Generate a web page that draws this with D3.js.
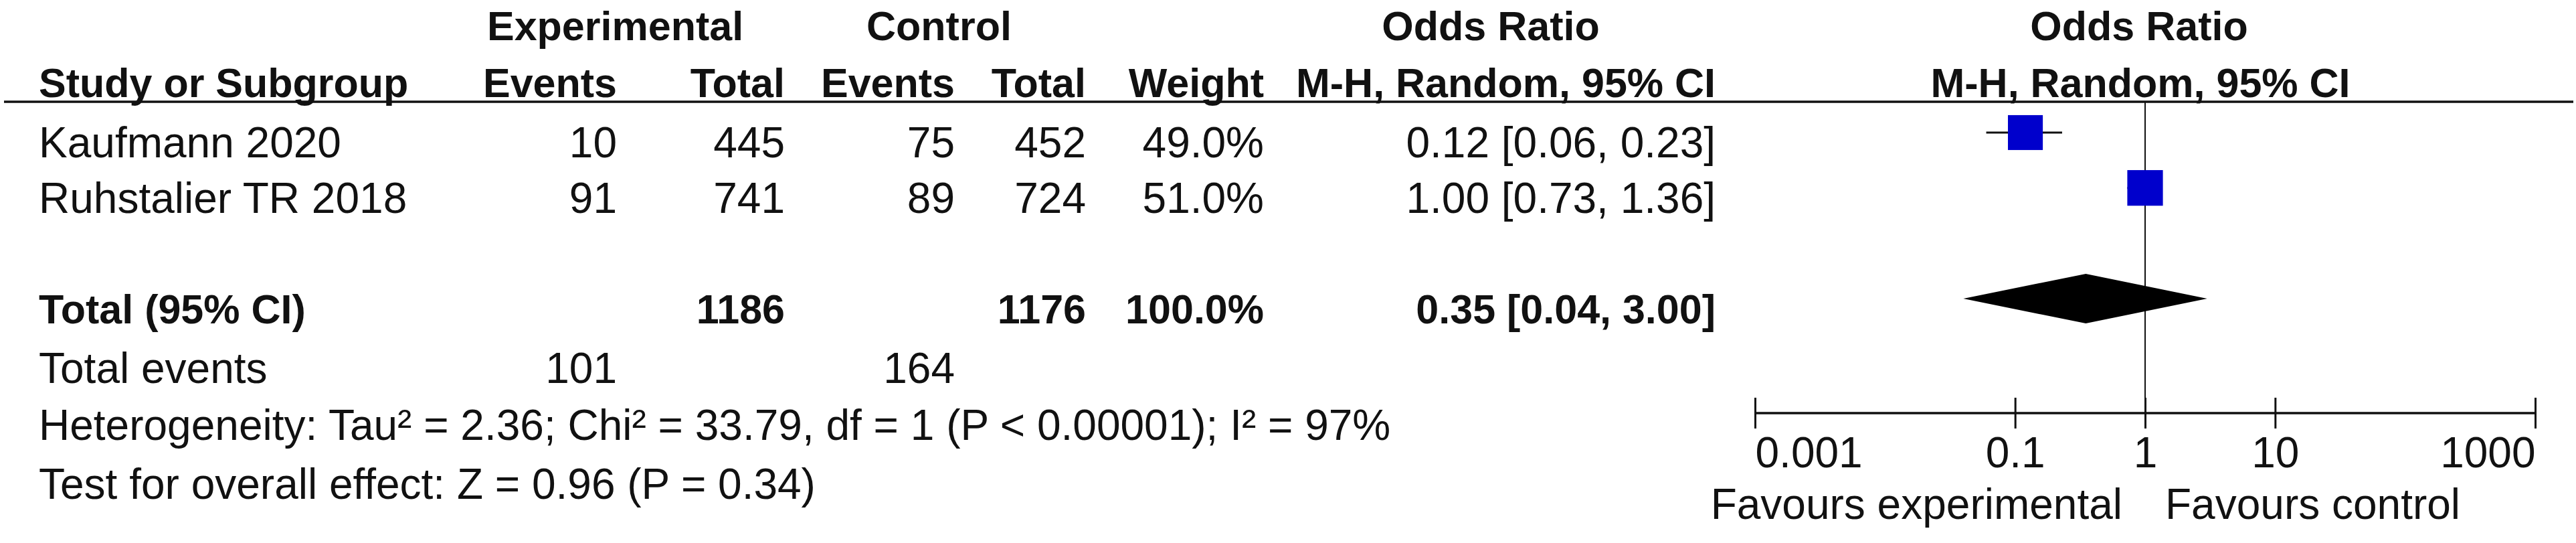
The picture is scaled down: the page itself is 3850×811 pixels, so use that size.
<!DOCTYPE html>
<html>
<head>
<meta charset="utf-8">
<script src="https://cdn.jsdelivr.net/npm/d3@7"></script>
<style>
  body { margin: 0; background: #fff; }
  text { font-family: "Liberation Sans", Arial, sans-serif; fill: #111; }
</style>
</head>
<body>
<div id="chart"></div>
<script>
const width = 3850;
const height = 811;

// Data
const studies = ["Kaufmann 2020", "Ruhstalier TR 2018"];
const expEvents = [10, 91];
const expTotal = [445, 741];
const ctrlEvents = [75, 89];
const ctrlTotal = [452, 724];
const weights = [49.0, 51.0];
const orValue = [0.12, 1.0];
const orLow = [0.06, 0.73];
const orHigh = [0.23, 1.36];

const pooled = { or: 0.35, low: 0.04, high: 3.0, expTotal: 1186, ctrlTotal: 1176, expEvents: 101, ctrlEvents: 164 };
const axisTicks = [0.001, 0.1, 1, 10, 1000];
const heterogeneity = "Heterogeneity: Tau² = 2.36; Chi² = 33.79, df = 1 (P < 0.00001); I² = 97%";
const overall = "Test for overall effect: Z = 0.96 (P = 0.34)";

const regular = 64;
const bold = 61;

const svg = d3.select("#chart")
  .append("svg")
  .attr("width", width)
  .attr("height", height);

// row baselines: 0,1 = studies, 3 = total
const y = d3.scaleLinear().domain([0, 3]).range([235, 483]);
const x = d3.scaleLog().domain([0.001, 1000]).range([2623, 3789]);
const markOffset = 37;

const fmt2 = d3.format(".2f");
const orText = (v, l, h) => `${fmt2(v)} [${fmt2(l)}, ${fmt2(h)}]`;

// column right edges
const col = { name: 58, expEv: 922, expTot: 1173, ctrlEv: 1427, ctrlTot: 1623, weight: 1889, or: 2564 };

const addText = (g, tx, ty, str, opts = {}) =>
  g.append("text")
    .attr("x", tx)
    .attr("y", ty)
    .attr("text-anchor", opts.anchor || "start")
    .attr("font-size", opts.bold ? bold : regular)
    .attr("font-weight", opts.bold ? "bold" : "normal")
    .text(str);

// Header
const head = svg.append("g").attr("class", "header");
addText(head, 728, 60, "Experimental", { bold: true });
addText(head, 1295, 60, "Control", { bold: true });
addText(head, 2228, 60, "Odds Ratio", { bold: true, anchor: "middle" });
addText(head, 3197, 60, "Odds Ratio", { bold: true, anchor: "middle" });

addText(head, col.name, 145, "Study or Subgroup", { bold: true });
addText(head, col.expEv, 145, "Events", { bold: true, anchor: "end" });
addText(head, col.expTot, 145, "Total", { bold: true, anchor: "end" });
addText(head, col.ctrlEv, 145, "Events", { bold: true, anchor: "end" });
addText(head, col.ctrlTot, 145, "Total", { bold: true, anchor: "end" });
addText(head, col.weight, 145, "Weight", { bold: true, anchor: "end" });
addText(head, col.or, 145, "M-H, Random, 95% CI", { bold: true, anchor: "end" });
addText(head, 3199, 145, "M-H, Random, 95% CI", { bold: true, anchor: "middle" });

svg.append("line")
  .attr("x1", 6).attr("x2", 3846)
  .attr("y1", 152).attr("y2", 152)
  .attr("stroke", "#111")
  .attr("stroke-width", 3.5);

// Study rows
const rows = svg.append("g").attr("class", "rows");
studies.forEach((s, i) => {
  const by = y(i);
  addText(rows, col.name, by, s);
  addText(rows, col.expEv, by, expEvents[i], { anchor: "end" });
  addText(rows, col.expTot, by, expTotal[i], { anchor: "end" });
  addText(rows, col.ctrlEv, by, ctrlEvents[i], { anchor: "end" });
  addText(rows, col.ctrlTot, by, ctrlTotal[i], { anchor: "end" });
  addText(rows, col.weight, by, d3.format(".1f")(weights[i]) + "%", { anchor: "end" });
  addText(rows, col.or, by, orText(orValue[i], orLow[i], orHigh[i]), { anchor: "end" });
});

// Total row
const ty = y(3);
addText(rows, col.name, ty, "Total (95% CI)", { bold: true });
addText(rows, col.expTot, ty, pooled.expTotal, { bold: true, anchor: "end" });
addText(rows, col.ctrlTot, ty, pooled.ctrlTotal, { bold: true, anchor: "end" });
addText(rows, col.weight, ty, "100.0%", { bold: true, anchor: "end" });
addText(rows, col.or, ty, orText(pooled.or, pooled.low, pooled.high), { bold: true, anchor: "end" });

addText(rows, col.name, 572, "Total events");
addText(rows, col.expEv, 572, pooled.expEvents, { anchor: "end" });
addText(rows, col.ctrlEv, 572, pooled.ctrlEvents, { anchor: "end" });
addText(rows, col.name, 657, heterogeneity);
addText(rows, col.name, 745, overall);

// Plot
const axisY = 617;
const plot = svg.append("g").attr("class", "plot");

plot.append("line")
  .attr("x1", x(1)).attr("x2", x(1))
  .attr("y1", 152).attr("y2", axisY + 23)
  .attr("stroke", "#111")
  .attr("stroke-width", 2);

// CI lines
plot.selectAll("line.ci")
  .data(studies)
  .join("line")
  .attr("class", "ci")
  .attr("x1", (d, i) => x(orLow[i]))
  .attr("x2", (d, i) => x(orHigh[i]))
  .attr("y1", (d, i) => y(i) - markOffset)
  .attr("y2", (d, i) => y(i) - markOffset)
  .attr("stroke", "#111")
  .attr("stroke-width", 3);

// weight squares
const boxSize = (w) => Math.sqrt(w) * 7.45;
plot.selectAll("rect.box")
  .data(studies)
  .join("rect")
  .attr("class", "box")
  .attr("x", (d, i) => x(orValue[i]) - boxSize(weights[i]) / 2)
  .attr("y", (d, i) => y(i) - markOffset - boxSize(weights[i]) / 2)
  .attr("width", (d, i) => boxSize(weights[i]))
  .attr("height", (d, i) => boxSize(weights[i]))
  .attr("fill", "#0000cc");

// pooled diamond
const dy = ty - markOffset;
const dh = 37;
plot.append("path")
  .attr("d", `M${x(pooled.low)},${dy} L${x(pooled.or)},${dy - dh} L${x(pooled.high)},${dy} L${x(pooled.or)},${dy + dh} Z`)
  .attr("fill", "#000");

// axis
const axis = plot.append("g")
  .attr("transform", `translate(0,${axisY})`)
  .call(d3.axisBottom(x).tickValues(axisTicks).tickFormat(d3.format("~g")).tickSizeOuter(0));

axis.select(".domain")
  .attr("d", `M${x(0.001)},0H${x(1000)}`)
  .attr("stroke", "#111")
  .attr("stroke-width", 3.5);
axis.selectAll(".tick line")
  .attr("y1", -23).attr("y2", 23)
  .attr("stroke", "#111")
  .attr("stroke-width", 3);
axis.selectAll(".tick text")
  .attr("y", 81)
  .attr("dy", 0)
  .attr("font-size", regular)
  .attr("font-family", "Liberation Sans, Arial, sans-serif")
  .attr("fill", "#111")
  .attr("text-anchor", (d, i) => i === 0 ? "start" : (i === axisTicks.length - 1 ? "end" : "middle"));

addText(plot, x(1) - 34, 775, "Favours experimental", { anchor: "end" });
addText(plot, x(1) + 30, 775, "Favours control");
</script>
</body>
</html>
